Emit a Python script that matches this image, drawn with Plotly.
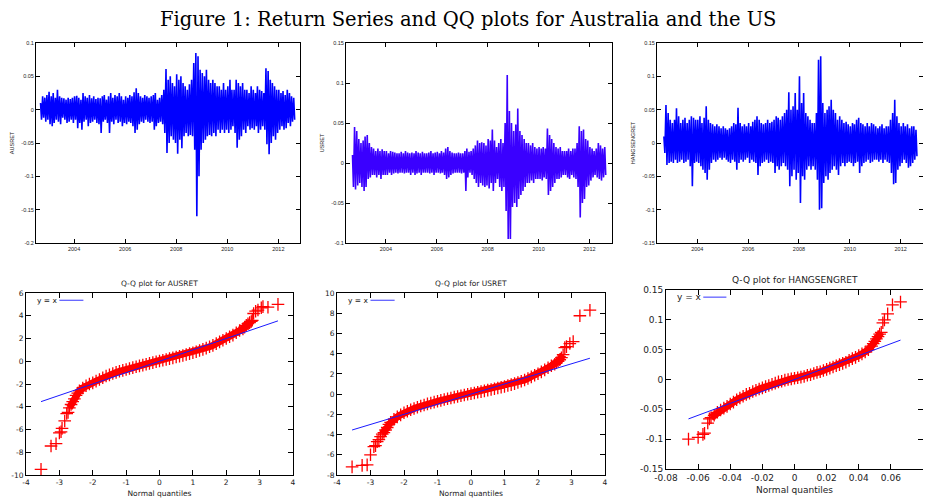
import pandas as pd
import plotly.graph_objects as go

# monthly envelopes (high / low daily return in each month), Sep 2002 - Aug 2012
months = pd.date_range("2002-09-01", periods=120, freq="MS")

aus_hi = [.010, .020, .018, .022,
          .027, .020, .025, .018, .030, .020, .018, .017, .015, .018, .016, .018,
          .020, .021, .018, .015, .025, .020, .018, .022, .017, .020, .016, .018,
          .017, .020, .022, .015, .020, .025, .018, .022, .020, .025, .020, .015,
          .020, .018, .022, .020, .026, .032, .025, .020, .018, .022, .020, .018,
          .020, .022, .025, .015, .018, .022, .030, .061, .045, .050, .040, .035,
          .053, .045, .050, .040, .035, .030, .038, .045, .070, .085, .080, .060,
          .055, .050, .060, .045, .040, .045, .040, .035, .035, .030, .040, .030,
          .035, .045, .030, .030, .045, .040, .035, .040, .030, .030, .025, .035,
          .030, .025, .035, .030, .028, .025, .062, .058, .045, .040, .035, .030,
          .030, .025, .028, .022, .030, .025, .020, .018]
aus_lo = [-.015, -.012, -.018, -.015,
          -.022, -.025, -.020, -.015, -.018, -.022, -.012, -.015, -.020, -.018, -.015, -.020,
          -.015, -.028, -.020, -.030, -.018, -.015, -.025, -.020, -.018, -.015, -.020, -.022,
          -.035, -.018, -.015, -.020, -.035, -.018, -.022, -.015, -.020, -.018, -.025, -.020,
          -.022, -.018, -.020, -.025, -.035, -.030, -.022, -.018, -.020, -.015, -.018, -.020,
          -.018, -.030, -.025, -.020, -.018, -.022, -.035, -.065, -.050, -.040, -.045, -.050,
          -.066, -.045, -.058, -.040, -.035, -.040, -.038, -.040, -.060, -.160, -.100, -.060,
          -.050, -.045, -.040, -.038, -.040, -.035, -.040, -.030, -.035, -.030, -.035, -.030,
          -.035, -.030, -.025, -.035, -.057, -.045, -.040, -.030, -.035, -.025, -.030, -.028,
          -.030, -.025, -.035, -.030, -.025, -.030, -.052, -.067, -.050, -.040, -.045, -.035,
          -.030, -.025, -.030, -.028, -.020, -.025, -.018, -.015]

us_hi = [.010, .045, .040, .030,
         .025, .028, .033, .035, .025, .020, .018, .015, .018, .015, .017, .015,
         .015, .012, .015, .014, .013, .012, .012, .014, .012, .015, .013, .012,
         .013, .012, .015, .013, .012, .014, .012, .012, .013, .015, .012, .013,
         .014, .012, .015, .013, .018, .020, .015, .013, .012, .012, .013, .012,
         .012, .015, .018, .014, .015, .018, .022, .028, .025, .026, .025, .022,
         .030, .028, .042, .028, .020, .025, .030, .025, .050, .110, .065, .050,
         .040, .048, .068, .040, .035, .030, .025, .025, .022, .025, .020, .018,
         .020, .018, .020, .018, .043, .035, .030, .025, .020, .018, .020, .015,
         .015, .015, .018, .015, .018, .018, .025, .046, .040, .042, .030, .028,
         .020, .018, .015, .018, .025, .022, .018, .020]
us_lo = [-.030, -.033, -.028, -.025,
         -.030, -.035, -.030, -.020, -.018, -.015, -.015, -.018, -.015, -.020, -.015, -.015,
         -.015, -.012, -.015, -.013, -.012, -.013, -.012, -.012, -.013, -.012, -.012, -.015,
         -.012, -.015, -.013, -.012, -.015, -.012, -.012, -.012, -.013, -.012, -.015, -.012,
         -.012, -.013, -.012, -.015, -.020, -.018, -.015, -.013, -.012, -.012, -.012, -.013,
         -.012, -.035, -.018, -.012, -.015, -.020, -.025, -.030, -.025, -.028, -.030, -.028,
         -.032, -.025, -.035, -.025, -.020, -.030, -.035, -.030, -.060, -.095, -.095, -.055,
         -.050, -.055, -.045, -.040, -.035, -.030, -.025, -.025, -.022, -.025, -.020, -.020,
         -.020, -.022, -.018, -.020, -.040, -.035, -.030, -.025, -.020, -.020, -.018, -.015,
         -.015, -.018, -.020, -.015, -.018, -.020, -.030, -.068, -.050, -.045, -.030, -.028,
         -.022, -.018, -.015, -.018, -.020, -.022, -.018, -.015]

hs_hi = [.010, .057, .045, .035,
         .030, .035, .052, .040, .030, .035, .038, .030, .035, .040, .038, .035,
         .035, .040, .030, .038, .055, .035, .030, .028, .025, .028, .025, .022,
         .025, .022, .020, .022, .025, .030, .028, .053, .030, .025, .028, .025,
         .030, .025, .032, .035, .040, .035, .030, .028, .030, .035, .030, .032,
         .035, .040, .038, .035, .040, .045, .050, .076, .050, .055, .075, .050,
         .100, .060, .075, .045, .040, .035, .030, .030, .045, .125, .130, .060,
         .045, .050, .055, .065, .050, .045, .035, .040, .035, .030, .032, .028,
         .025, .030, .028, .035, .038, .030, .028, .025, .030, .025, .030, .028,
         .025, .022, .025, .028, .022, .025, .025, .035, .045, .065, .040, .030,
         .025, .030, .025, .028, .022, .025, .025, .020]
hs_lo = [-.015, -.033, -.030, -.028,
         -.030, -.025, -.030, -.028, -.025, -.030, -.028, -.025, -.035, -.065, -.030, -.028,
         -.030, -.035, -.040, -.045, -.055, -.040, -.030, -.025, -.028, -.025, -.022, -.025,
         -.022, -.025, -.028, -.030, -.025, -.028, -.040, -.030, -.025, -.028, -.025, -.022,
         -.030, -.025, -.028, -.030, -.048, -.035, -.030, -.028, -.025, -.030, -.028, -.030,
         -.045, -.035, -.040, -.035, -.030, -.035, -.040, -.065, -.050, -.040, -.055, -.045,
         -.090, -.050, -.055, -.040, -.035, -.040, -.035, -.040, -.055, -.100, -.098, -.060,
         -.050, -.055, -.045, -.040, -.035, -.040, -.048, -.035, -.030, -.035, -.030, -.028,
         -.030, -.035, -.030, -.028, -.045, -.035, -.030, -.028, -.025, -.030, -.028, -.025,
         -.025, -.028, -.025, -.030, -.025, -.028, -.030, -.045, -.062, -.060, -.040, -.035,
         -.030, -.025, -.030, -.037, -.035, -.030, -.025, -.020]

# Q-Q points (normal quantile, sample quantile)
aus_theo = [-3.55, -3.25, -3.1, -3.0, -2.95, -2.92, -2.84, -2.78, -2.74, -2.7, -2.65, -2.6, -2.55, -2.5, -2.45, -2.4, -2.3,
            -2.2, -2.1, -2.0, -1.9, -1.8, -1.7, -1.6, -1.5, -1.4, -1.3, -1.2, -1.1, -1.0, -0.9, -0.8, -0.7,
            -0.6, -0.5, -0.4, -0.3, -0.2, -0.1, 0.0, 0.1, 0.2, 0.3, 0.4, 0.5, 0.6, 0.7, 0.8, 0.9, 1.0, 1.1,
            1.2, 1.3, 1.4, 1.5, 1.6, 1.7, 1.8, 1.9, 2.0, 2.1, 2.2, 2.3,
            2.4, 2.5, 2.55, 2.6, 2.65, 2.7, 2.75, 2.78, 2.82, 2.88, 2.95, 3.05, 3.1, 3.25, 3.55]
aus_sample = [-9.5, -7.45, -7.25, -6.3, -6.2, -5.9, -5.25, -4.6, -4.5, -4.1, -3.8, -3.55, -3.3, -3.0, -2.8, -2.6, -2.35,
              -2.15, -2.0, -1.9, -1.75, -1.6, -1.45, -1.3, -1.2, -1.08, -0.98, -0.88, -0.8, -0.72, -0.64, -0.56, -0.48,
              -0.41, -0.34, -0.26, -0.19, -0.12, -0.05, 0.02, 0.09, 0.16, 0.23, 0.30, 0.37, 0.44, 0.51, 0.59, 0.67, 0.75, 0.84,
              0.94, 1.04, 1.15, 1.27, 1.40, 1.55, 1.70, 1.85, 2.0, 2.15, 2.3, 2.5,
              2.7, 2.85, 3.0, 3.15, 3.3, 3.4, 3.5, 3.6, 4.2, 4.4, 4.5, 4.7, 4.8, 4.75, 5.0]

us_theo = [-3.55, -3.25, -3.1, -3.0, -2.9, -2.85, -2.8, -2.75, -2.7, -2.65, -2.6, -2.55, -2.5, -2.45, -2.4, -2.3,
           -2.2, -2.1, -2.0, -1.9, -1.8, -1.7, -1.6, -1.5, -1.4, -1.3, -1.2, -1.1, -1.0, -0.9, -0.8, -0.7,
           -0.6, -0.5, -0.4, -0.3, -0.2, -0.1, 0.0, 0.1, 0.2, 0.3, 0.4, 0.5, 0.6, 0.7, 0.8, 0.9, 1.0, 1.1,
           1.2, 1.3, 1.4, 1.5, 1.6, 1.7, 1.8, 1.9, 2.0, 2.1, 2.2, 2.3,
           2.4, 2.5, 2.55, 2.6, 2.65, 2.7, 2.75, 2.8, 2.85, 2.95, 3.05, 3.25, 3.55]
us_sample = [-7.2, -7.05, -7.0, -6.0, -5.2, -5.1, -4.7, -4.5, -4.2, -3.95, -3.8, -3.55, -3.3, -3.0, -2.8, -2.5,
             -2.25, -2.05, -1.85, -1.7, -1.55, -1.42, -1.3, -1.18, -1.07, -0.97, -0.88, -0.79, -0.7, -0.62, -0.54, -0.46,
             -0.38, -0.3, -0.23, -0.16, -0.09, -0.02, 0.05, 0.11, 0.18, 0.25, 0.32, 0.39, 0.46, 0.53, 0.6, 0.68, 0.76, 0.85,
             0.94, 1.04, 1.15, 1.27, 1.4, 1.55, 1.7, 1.86, 2.02, 2.2, 2.4, 2.6,
             2.8, 2.95, 3.1, 3.25, 3.4, 3.6, 3.9, 4.6, 4.7, 5.0, 5.2, 7.75, 8.3]

hs_theo = [-0.066, -0.06, -0.057, -0.056, -0.054, -0.053, -0.052, -0.05, -0.048, -0.046,
           -0.044, -0.042, -0.04, -0.038, -0.036, -0.034, -0.032, -0.03, -0.028, -0.026, -0.024, -0.022,
           -0.02, -0.018, -0.016, -0.014, -0.012, -0.01, -0.008, -0.006, -0.004, -0.002, 0.0,
           0.002, 0.004, 0.006, 0.008, 0.01, 0.012, 0.014, 0.016, 0.018, 0.02, 0.022, 0.024,
           0.026, 0.028, 0.03, 0.032, 0.034, 0.036, 0.038, 0.04, 0.042, 0.044,
           0.046, 0.048, 0.049, 0.05, 0.051, 0.052, 0.053, 0.054, 0.055, 0.056, 0.058, 0.061, 0.066]
hs_sample = [-0.1, -0.097, -0.092, -0.09, -0.073, -0.066, -0.064, -0.06, -0.055, -0.051,
             -0.048, -0.045, -0.041, -0.038, -0.034, -0.031, -0.028, -0.025, -0.023, -0.020, -0.018, -0.016,
             -0.014, -0.012, -0.010, -0.008, -0.006, -0.004, -0.003, -0.001, 0.000, 0.001, 0.002,
             0.003, 0.004, 0.005, 0.007, 0.008, 0.010, 0.012, 0.013, 0.015, 0.017, 0.019, 0.021,
             0.023, 0.025, 0.027, 0.029, 0.032, 0.035, 0.037, 0.040, 0.043, 0.046,
             0.05, 0.056, 0.06, 0.064, 0.068, 0.072, 0.076, 0.079, 0.095, 0.1, 0.11, 0.125, 0.13]

year_ticks = ["2004", "2006", "2008", "2010", "2012"]
aus_yticks = [-0.2, -0.15, -0.1, -0.05, 0, 0.05, 0.1]
us_yticks = [-0.1, -0.05, 0, 0.05, 0.1, 0.15]
hs_yticks = [-0.15, -0.1, -0.05, 0, 0.05, 0.1, 0.15]
qq_xticks = [-4, -3, -2, -1, 0, 1, 2, 3, 4]
aus_qq_yticks = [-10, -8, -6, -4, -2, 0, 2, 4, 6]
us_qq_yticks = [-8, -6, -4, -2, 0, 2, 4, 6, 8, 10]
hs_qq_xticks = [-0.08, -0.06, -0.04, -0.02, 0, 0.02, 0.04, 0.06, 0.08]
hs_qq_yticks = [-0.15, -0.1, -0.05, 0, 0.05, 0.1, 0.15]


def zigzag(hi, lo):
    xs, ys = [], []
    for m, h, l in zip(months, hi, lo):
        xs += [m + pd.Timedelta(days=7), m + pd.Timedelta(days=21)]
        ys += [h, l]
    return xs, ys


# page body has an 8px margin, so the figure is 8px smaller and everything shifted
OFF = 8
W, H = 931 - OFF, 498 - OFF


def dom(a, b):
    return [(a - OFF) / W, (b - OFF) / W]


def ydom(top, bottom):
    return [1 - (bottom - OFF) / H, 1 - (top - OFF) / H]


fig = go.Figure()

series = [(aus_hi, aus_lo, "#0000ff"), (us_hi, us_lo, "#3a00ff"), (hs_hi, hs_lo, "#0000ff")]
for i, (hi, lo, col) in enumerate(series, start=1):
    xs, ys = zigzag(hi, lo)
    fig.add_trace(go.Scatter(x=xs, y=ys, mode="lines", line=dict(color=col, width=1.6),
                             xaxis=f"x{i}", yaxis=f"y{i}", showlegend=False))

# (theo, sample, axis index, range where the crosses merge into a solid band)
qq = [(aus_theo, aus_sample, 4, (-2.7, 2.75)),
      (us_theo, us_sample, 5, (-2.65, 2.75)),
      (hs_theo, hs_sample, 6, (-0.052, 0.054))]
for theo, samp, i, (lo_cut, hi_cut) in qq:
    dense = [(a, b) for a, b in zip(theo, samp) if lo_cut <= a <= hi_cut]
    fig.add_trace(go.Scatter(x=[d[0] for d in dense], y=[d[1] for d in dense], mode="lines",
                             line=dict(color="#ff0000", width=7),
                             xaxis=f"x{i}", yaxis=f"y{i}", showlegend=False))
    fig.add_trace(go.Scatter(x=theo, y=samp, mode="markers",
                             marker=dict(symbol="cross-thin", size=9, line=dict(color="#ff0000", width=1.3)),
                             xaxis=f"x{i}", yaxis=f"y{i}", showlegend=False))
    fig.add_trace(go.Scatter(x=[theo[0], theo[-1]], y=[theo[0], theo[-1]], mode="lines",
                             line=dict(color="#1a1aff", width=1),
                             xaxis=f"x{i}", yaxis=f"y{i}", showlegend=False))

small = dict(family="Liberation Sans, Arial, sans-serif", size=5.5, color="#222")
mid = dict(family="DejaVu Sans, sans-serif", size=7.5, color="#222")
big = dict(family="DejaVu Sans, sans-serif", size=9, color="#222")

common = dict(showline=True, linecolor="black", linewidth=1, mirror="ticks", ticks="inside",
              tickcolor="black", showgrid=False, zeroline=False, automargin=False)


def fmt(v):
    return f"{v:g}"


top_panels = [
    (1, (36, 300), ["2002-07-05", "2012-11-06"], aus_yticks, "AUSRET"),
    (2, (346, 612), ["2002-06-07", "2012-11-20"], us_yticks, "USRET"),
    (3, (657, 923), ["2002-06-01", "2012-11-17"], hs_yticks, "HANGSENGRET"),
]
layout = {}
for i, (x0, x1), xr, yt, name in top_panels:
    layout[f"xaxis{i}"] = dict(common, domain=dom(x0, x1), anchor=f"y{i}", type="date", range=xr,
                               tickvals=[f"{y}-01-01" for y in year_ticks], ticktext=year_ticks,
                               ticklen=4, tickfont=small)
    layout[f"yaxis{i}"] = dict(common, domain=ydom(43, 243), anchor=f"x{i}", range=[yt[0], yt[-1]],
                               tickvals=yt, ticktext=[fmt(v) for v in yt], ticklen=4, tickfont=small,
                               title=dict(text=name, font=small, standoff=6))

bottom_panels = [
    (4, (26, 293), (293, 475), qq_xticks, aus_qq_yticks, mid, "AUSRET"),
    (5, (337, 605), (293, 475), qq_xticks, us_qq_yticks, mid, "USRET"),
    (6, (666, 923), (290, 469), hs_qq_xticks, hs_qq_yticks, big, "HANGSENGRET"),
]
annotations = [dict(text="Figure 1: Return Series and QQ plots for Australia and the US",
                    xref="paper", yref="paper", x=(468 - OFF) / W, y=1 - (20 - OFF) / H,
                    xanchor="center", yanchor="middle", showarrow=False,
                    font=dict(family="DejaVu Serif, serif", size=19.5, color="black"))]
shapes = []
for i, (x0, x1), (t, b), xt, yt, f, name in bottom_panels:
    layout[f"xaxis{i}"] = dict(common, domain=dom(x0, x1), anchor=f"y{i}", range=[xt[0], xt[-1]],
                               tickvals=xt, ticktext=[fmt(v) for v in xt], ticklen=5, tickfont=f,
                               title=dict(text="Normal quantiles", font=f, standoff=4))
    layout[f"yaxis{i}"] = dict(common, domain=ydom(t, b), anchor=f"x{i}", range=[yt[0], yt[-1]],
                               tickvals=yt, ticktext=[fmt(v) for v in yt], ticklen=5, tickfont=f)
    annotations.append(dict(text=f"Q-Q plot for {name}", xref=f"x{i} domain", yref=f"y{i} domain",
                            x=0.5, y=1, yanchor="bottom", yshift=3, showarrow=False, font=f))
    annotations.append(dict(text="y = x", xref=f"x{i} domain", yref=f"y{i} domain",
                            x=0.035, y=0.96, xanchor="left", yanchor="middle", showarrow=False, font=f))
    lx0 = 0.125 if i != 6 else 0.145
    shapes.append(dict(type="line", xref=f"x{i} domain", yref=f"y{i} domain",
                       x0=lx0, x1=lx0 + 0.09, y0=0.96, y1=0.96, line=dict(color="#5555ff", width=1.2)))

fig.update_layout(width=W, height=H, autosize=False, margin=dict(l=0, r=0, t=0, b=0),
                  plot_bgcolor="white", paper_bgcolor="white", showlegend=False,
                  annotations=annotations, shapes=shapes, **layout)

fig.write_html("out.html")
